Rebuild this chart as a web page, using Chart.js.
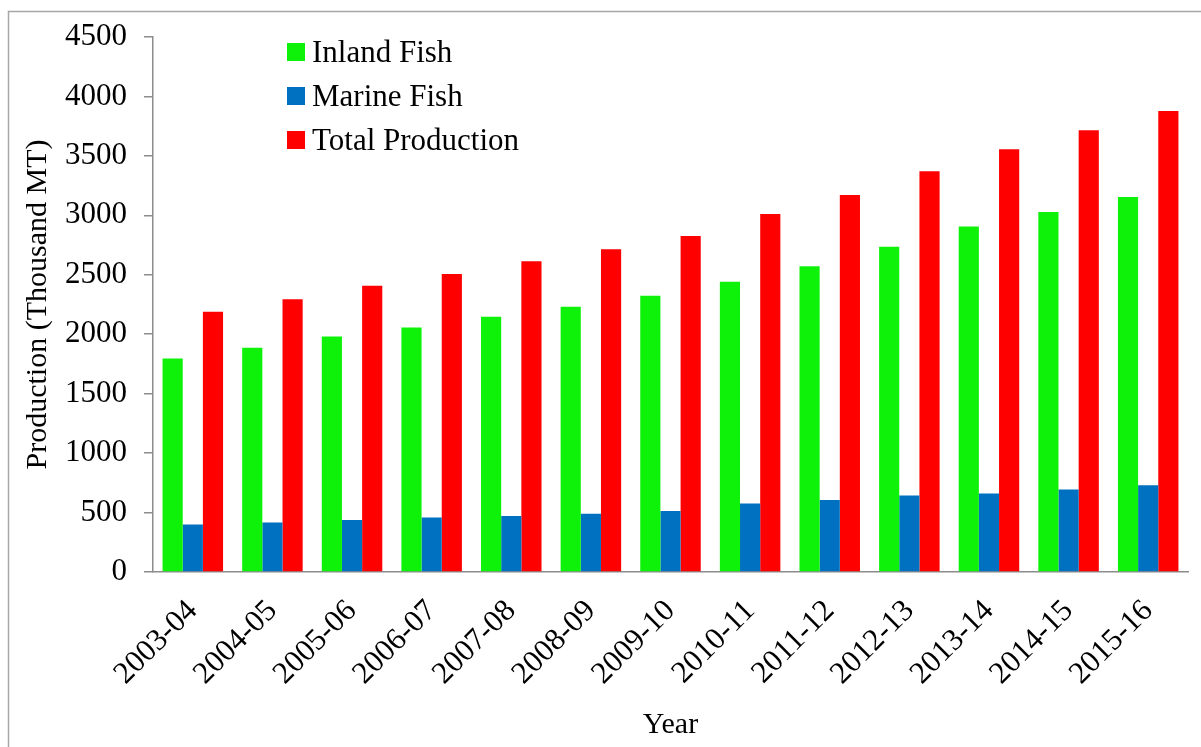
<!DOCTYPE html>
<html>
<head>
<meta charset="utf-8">
<script src="https://cdn.jsdelivr.net/npm/chart.js@4/dist/chart.umd.min.js"></script>
<style>
  html, body { margin: 0; padding: 0; background: #ffffff; }
  #wrap { width: 1201px; height: 747px; position: relative; }
</style>
</head>
<body>
<div id="wrap"><canvas id="c" width="1201" height="747"></canvas></div>
<script>
// Fish production by fiscal year, thousand metric tonnes
const years = ['2003-04','2004-05','2005-06','2006-07','2007-08','2008-09','2009-10',
               '2010-11','2011-12','2012-13','2013-14','2014-15','2015-16'];
const inlandFish = [1796, 1886, 1981, 2057, 2146, 2231, 2323, 2441, 2572, 2736, 2907, 3028, 3154];
const marineFish = [399, 416, 438, 458, 472, 491, 514, 576, 606, 643, 660, 694, 730];
const totalProduction = [2189, 2295, 2407, 2506, 2613, 2714, 2826, 3011, 3171, 3370, 3556, 3715, 3878];
const seriesNames = ['Inland Fish', 'Marine Fish', 'Total Production'];
const seriesColors = ['#0ef20a', '#0070c0', '#ff0000'];

const serif = "'Liberation Serif', 'Times New Roman', serif";
const axisGray = '#8c8c8c';

// Outer frame around the whole figure
const framePlugin = {
  id: 'frame',
  beforeDraw(chart) {
    const ctx = chart.ctx;
    ctx.save();
    ctx.fillStyle = '#ffffff';
    ctx.fillRect(0, 0, chart.width, chart.height);
    ctx.strokeStyle = '#a6a6a6';
    ctx.lineWidth = 1.5;
    ctx.strokeRect(8.5, 11.5, chart.width + 20, chart.height + 20);
    ctx.restore();
  }
};

// Vertical legend placed inside the plot, near the top left
const insideLegend = {
  id: 'insideLegend',
  afterDraw(chart) {
    const ctx = chart.ctx;
    const x0 = 287, baseline0 = 62, step = 44, box = 18;
    ctx.save();
    ctx.font = '31px ' + serif;
    ctx.textBaseline = 'alphabetic';
    ctx.textAlign = 'left';
    chart.data.datasets.forEach((ds, i) => {
      const by = baseline0 + i * step;
      ctx.fillStyle = ds.backgroundColor;
      ctx.fillRect(x0, by - box - 1, box, box);
      ctx.fillStyle = '#000000';
      ctx.fillText(ds.label, x0 + box + 7, by);
    });
    ctx.restore();
  }
};

new Chart(document.getElementById('c'), {
  type: 'bar',
  data: {
    labels: years,
    datasets: [
      { label: seriesNames[0], data: inlandFish, backgroundColor: seriesColors[0] },
      { label: seriesNames[1], data: marineFish, backgroundColor: seriesColors[1] },
      { label: seriesNames[2], data: totalProduction, backgroundColor: seriesColors[2] }
    ]
  },
  options: {
    responsive: false,
    animation: false,
    devicePixelRatio: 1,
    layout: { padding: { top: 37, right: 13, left: 0, bottom: 0 } },
    datasets: { bar: { categoryPercentage: 0.76, barPercentage: 1.0, borderWidth: 0 } },
    plugins: {
      legend: { display: false },
      tooltip: { enabled: false }
    },
    scales: {
      x: {
        offset: true,
        grid: { display: false },
        border: { display: true, color: axisGray, width: 1.5 },
        ticks: {
          autoSkip: false,
          minRotation: 45,
          maxRotation: 45,
          padding: 13,
          color: '#000000',
          font: { family: serif, size: 31 }
        },
        title: {
          display: true,
          text: 'Year',
          color: '#000000',
          font: { family: serif, size: 30 },
          padding: { top: 0, bottom: 4 }
        },
        afterFit(scale) { scale.height = 175; }
      },
      y: {
        min: 0,
        max: 4500,
        ticks: {
          stepSize: 500,
          padding: 17,
          color: '#000000',
          font: { family: serif, size: 31 },
          callback: (v) => String(v)
        },
        grid: {
          drawOnChartArea: false,
          drawTicks: true,
          tickLength: 9,
          color: axisGray,
          lineWidth: 1.5
        },
        border: { display: true, color: axisGray, width: 1.5 },
        title: {
          display: true,
          text: 'Production (Thousand MT)',
          color: '#000000',
          font: { family: serif, size: 30 },
          padding: { top: 20, bottom: 0 }
        },
        afterFit(scale) { scale.width = 153; }
      }
    }
  },
  plugins: [framePlugin, insideLegend]
});
</script>
</body>
</html>
